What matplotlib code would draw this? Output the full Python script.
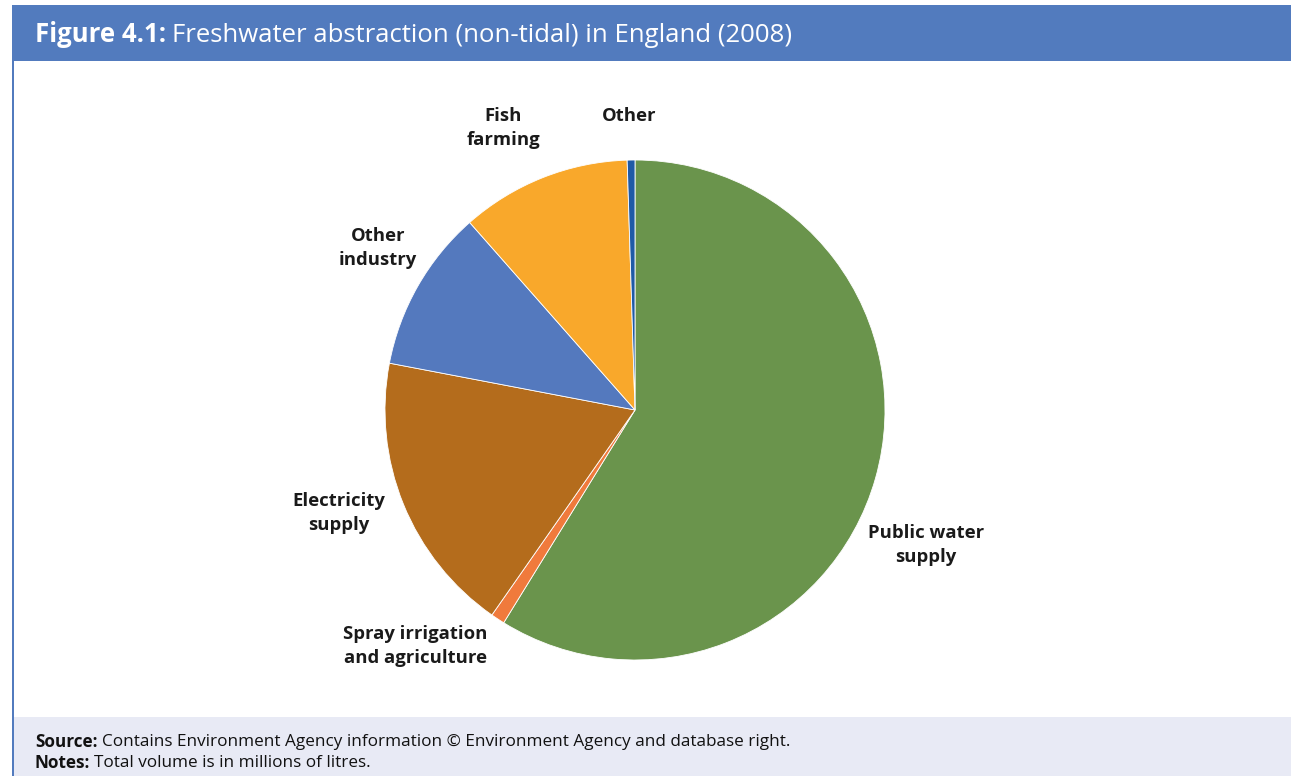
import matplotlib
matplotlib.use('Agg')
import matplotlib.pyplot as plt
from matplotlib.patches import Rectangle

plt.rcParams['font.family'] = ['Open Sans', 'DejaVu Sans']

# Freshwater abstraction shares (non-tidal), clockwise from 12 o'clock
categories = ['Public water\nsupply', 'Spray irrigation\nand agriculture', 'Electricity\nsupply',
              'Other\nindustry', 'Fish\nfarming', 'Other']
volumes = [58.8, 0.9, 18.3, 10.5, 11.0, 0.5]
colors = ['#6A944C', '#F07A3C', '#B46C1C', '#5479BE', '#F9A82B', '#1F5AA6']
# label anchor points in pie units (radius = 1)
label_pos = [(1.164, -0.54), (-0.88, -0.944), (-1.184, -0.412),
             (-1.028, 0.648), (-0.528, 1.128), (-0.024, 1.176)]

W, H = 1291, 776
fig = plt.figure(figsize=(W / 100, H / 100), dpi=100)
fig.patch.set_facecolor('white')

# header band, left rule and footer band
fig.add_artist(Rectangle((12 / W, 1 - 61 / H), 1, 56 / H, transform=fig.transFigure,
                         facecolor='#527BBE', edgecolor='none'))
fig.add_artist(Rectangle((12 / W, 0), 2 / W, 1 - 61 / H, transform=fig.transFigure,
                         facecolor='#527BBE', edgecolor='none'))
fig.add_artist(Rectangle((14 / W, 0), 1, 59 / H, transform=fig.transFigure,
                         facecolor='#E8EAF5', edgecolor='none'))

# pie axes: centre (635, 410) px, radius 250 px
cx, cy, r = 635, 410, 250
ax = fig.add_axes([(cx - r) / W, (H - cy - r) / H, 2 * r / W, 2 * r / H])
wedges, texts = ax.pie(volumes, labels=categories, colors=colors, startangle=90,
                       counterclock=False, radius=1,
                       wedgeprops=dict(edgecolor='white', linewidth=0.6),
                       textprops=dict(fontsize=13.3, fontweight='bold', color='#1A1A1A',
                                      ha='center', va='center', linespacing=1.45))
for t, (x, y) in zip(texts, label_pos):
    t.set_position((x, y))
    t.set_horizontalalignment('center')
    t.set_verticalalignment('center')
ax.set_xlim(-1, 1)
ax.set_ylim(-1, 1)
ax.set_aspect('equal')
ax.axis('off')

# title: bold prefix followed by regular text
fig.canvas.draw()
renderer = fig.canvas.get_renderer()
t1 = fig.text(35 / W, 1 - 35 / H, 'Figure 4.1:', color='white', fontsize=18.5,
              fontweight='bold', va='center', ha='left')
bb = t1.get_window_extent(renderer)
fig.text(bb.x1 / W + 6 / W, 1 - 35 / H, 'Freshwater abstraction (non-tidal) in England (2008)',
         color='white', fontsize=18.5, va='center', ha='left')

# footer lines
for ypx, head, body in [(742, 'Source:', 'Contains Environment Agency information © Environment Agency and database right.'),
                        (763, 'Notes:', 'Total volume is in millions of litres.')]:
    h = fig.text(35 / W, 1 - ypx / H, head, fontsize=12.3, fontweight='bold',
                 color='#111111', va='center', ha='left')
    hb = h.get_window_extent(renderer)
    fig.text(hb.x1 / W + 4 / W, 1 - ypx / H, body, fontsize=12.3, color='#111111',
             va='center', ha='left')

fig.savefig('out.png', dpi=100, facecolor='white')
